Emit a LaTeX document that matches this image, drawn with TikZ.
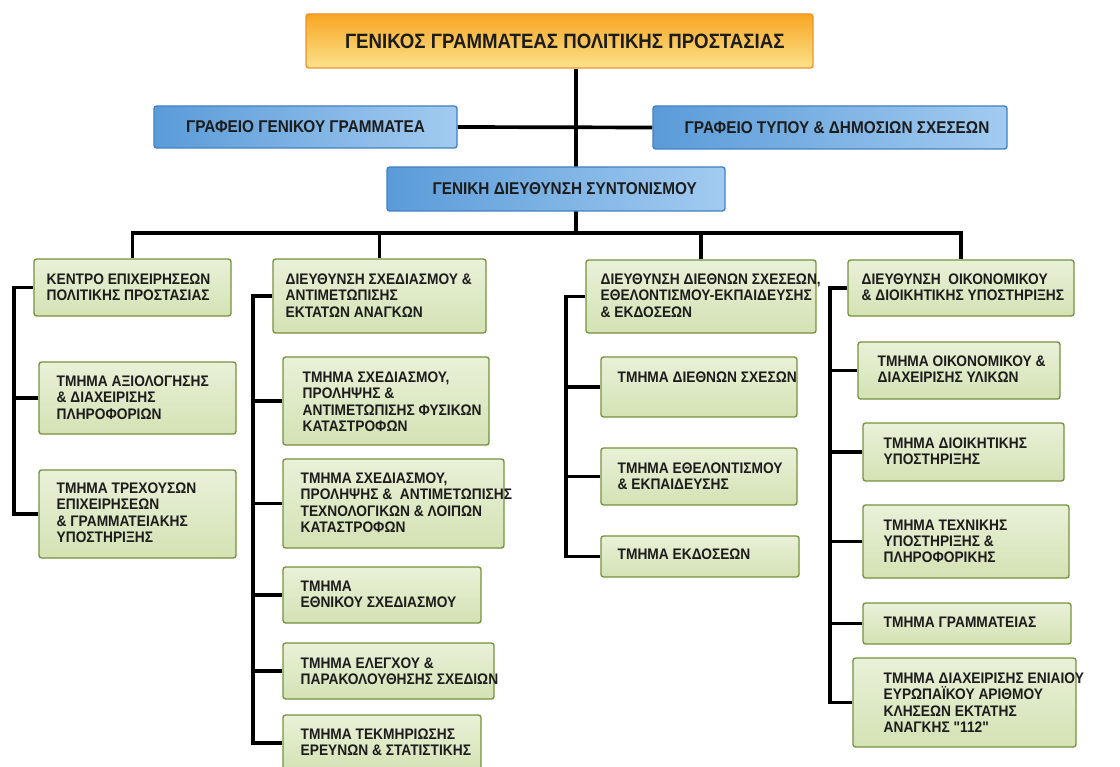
\documentclass[tikz,border=0pt]{standalone}
\usepackage{fontspec}
\setmainfont[FakeStretch=0.9,Ligatures=TeXOff]{Liberation Sans}
\usetikzlibrary{fit}
\definecolor{orangetop}{RGB}{247,166,35}
\definecolor{orangebot}{RGB}{252,226,140}
\definecolor{orangeline}{RGB}{240,146,40}
\definecolor{blueleft}{RGB}{90,155,216}
\definecolor{blueright}{RGB}{162,203,240}
\definecolor{blueline}{RGB}{66,128,196}
\definecolor{greentop}{RGB}{233,241,216}
\definecolor{greenbot}{RGB}{212,226,180}
\definecolor{greenline}{RGB}{118,146,62}
\definecolor{ink}{RGB}{28,28,28}
\pgfdeclarelayer{bg}
\pgfsetlayers{bg,main}
\begin{document}
\begin{tikzpicture}[x=0.02cm,y=-0.02cm,line join=round,
	obox/.style={draw=orangeline,line width=0.8pt,rounded corners=1.5pt,top color=orangetop,bottom color=orangebot,inner sep=0pt},
	bbox/.style={draw=blueline,line width=0.8pt,rounded corners=1.5pt,left color=blueleft,right color=blueright,inner sep=0pt},
	gbox/.style={draw=greenline,line width=0.8pt,rounded corners=1.5pt,top color=greentop,bottom color=greenbot,inner sep=0pt},
	otxt/.style={inner sep=0pt,text=ink,font=\bfseries\fontsize{11.8}{13}\selectfont},
	btxt/.style={inner sep=0pt,text=ink,font=\bfseries\fontsize{9.7}{11}\selectfont},
	gtxt/.style={anchor=north west,inner sep=0pt,align=left,text=ink,font=\bfseries\fontsize{8.7}{9.3}\selectfont},
	link/.style={line width=2.1pt}]
	\useasboundingbox (0,0) rectangle (1120,767);
	% top of the chart
	\node[obox,fit={(306,14) (813,68)}] (gsg) {};
	\node[otxt] (gsgt) at ([xshift=3]gsg.center) {ΓΕΝΙΚΟΣ ΓΡΑΜΜΑΤΕΑΣ ΠΟΛΙΤΙΚΗΣ ΠΡΟΣΤΑΣΙΑΣ};
	\node[bbox,fit={(154,106) (457,148)}] (office) {};
	\node[btxt] (officet) at (office.center) {ΓΡΑΦΕΙΟ ΓΕΝΙΚΟΥ ΓΡΑΜΜΑΤΕΑ};
	\node[bbox,fit={(653,106) (1007,149)}] (press) {};
	\node[btxt] (presst) at ([xshift=4]press.center) {ΓΡΑΦΕΙΟ ΤΥΠΟΥ \& ΔΗΜΟΣΙΩΝ ΣΧΕΣΕΩΝ};
	\node[bbox,fit={(387,167) (725,211)}] (gdir) {};
	\node[btxt] (gdirt) at ([xshift=5]gdir.center) {ΓΕΝΙΚΗ ΔΙΕΥΘΥΝΣΗ ΣΥΝΤΟΝΙΣΜΟΥ};
	% directorates
	\node[gbox,fit={(34,259) (231,316)}] (g1) {};
	\node[gtxt] (g1t) at ([shift={(13,15)}]g1.north west) {ΚΕΝΤΡΟ ΕΠΙΧΕΙΡΗΣΕΩΝ\\ΠΟΛΙΤΙΚΗΣ ΠΡΟΣΤΑΣΙΑΣ};
	\node[gbox,fit={(273,259) (486,333)}] (g2) {};
	\node[gtxt] (g2t) at ([shift={(13,15)}]g2.north west) {ΔΙΕΥΘΥΝΣΗ ΣΧΕΔΙΑΣΜΟΥ \&\\ΑΝΤΙΜΕΤΩΠΙΣΗΣ\\ΕΚΤΑΤΩΝ ΑΝΑΓΚΩΝ};
	\node[gbox,fit={(586,260) (816,333)}] (g3) {};
	\node[gtxt] (g3t) at ([shift={(15,14)}]g3.north west) {ΔΙΕΥΘΥΝΣΗ ΔΙΕΘΝΩΝ ΣΧΕΣΕΩΝ,\\ΕΘΕΛΟΝΤΙΣΜΟΥ-ΕΚΠΑΙΔΕΥΣΗΣ\\\& ΕΚΔΟΣΕΩΝ};
	\node[gbox,fit={(848,260) (1074,316)}] (g4) {};
	\node[gtxt] (g4t) at ([shift={(14,14)}]g4.north west) {ΔΙΕΥΘΥΝΣΗ~ ΟΙΚΟΝΟΜΙΚΟΥ\\\& ΔΙΟΙΚΗΤΙΚΗΣ ΥΠΟΣΤΗΡΙΞΗΣ};
	% first column
	\node[gbox,fit={(39,362) (236,434)}] (c11) {};
	\node[gtxt] (c11t) at ([shift={(18,14)}]c11.north west) {ΤΜΗΜΑ ΑΞΙΟΛΟΓΗΣΗΣ\\\& ΔΙΑΧΕΙΡΙΣΗΣ\\ΠΛΗΡΟΦΟΡΙΩΝ};
	\node[gbox,fit={(39,470) (236,558)}] (c12) {};
	\node[gtxt] (c12t) at ([shift={(18,13)}]c12.north west) {ΤΜΗΜΑ ΤΡΕΧΟΥΣΩΝ\\ΕΠΙΧΕΙΡΗΣΕΩΝ\\\& ΓΡΑΜΜΑΤΕΙΑΚΗΣ\\ΥΠΟΣΤΗΡΙΞΗΣ};
	% second column
	\node[gbox,fit={(283,357) (489,445)}] (c21) {};
	\node[gtxt] (c21t) at ([shift={(20,15)}]c21.north west) {ΤΜΗΜΑ ΣΧΕΔΙΑΣΜΟΥ,\\ΠΡΟΛΗΨΗΣ \&\\ΑΝΤΙΜΕΤΩΠΙΣΗΣ ΦΥΣΙΚΩΝ\\ΚΑΤΑΣΤΡΟΦΩΝ};
	\node[gbox,fit={(283,459) (504,548)}] (c22) {};
	\node[gtxt] (c22t) at ([shift={(18,14)}]c22.north west) {ΤΜΗΜΑ ΣΧΕΔΙΑΣΜΟΥ,\\ΠΡΟΛΗΨΗΣ \&~ ΑΝΤΙΜΕΤΩΠΙΣΗΣ\\ΤΕΧΝΟΛΟΓΙΚΩΝ \& ΛΟΙΠΩΝ\\ΚΑΤΑΣΤΡΟΦΩΝ};
	\node[gbox,fit={(283,567) (481,623)}] (c23) {};
	\node[gtxt] (c23t) at ([shift={(18,14)}]c23.north west) {ΤΜΗΜΑ\\ΕΘΝΙΚΟΥ ΣΧΕΔΙΑΣΜΟΥ};
	\node[gbox,fit={(283,643) (494,699)}] (c24) {};
	\node[gtxt] (c24t) at ([shift={(18,15)}]c24.north west) {ΤΜΗΜΑ ΕΛΕΓΧΟΥ \&\\ΠΑΡΑΚΟΛΟΥΘΗΣΗΣ ΣΧΕΔΙΩΝ};
	\node[gbox,fit={(283,715) (481,771)}] (c25) {};
	\node[gtxt] (c25t) at ([shift={(18,14)}]c25.north west) {ΤΜΗΜΑ ΤΕΚΜΗΡΙΩΣΗΣ\\ΕΡΕΥΝΩΝ \& ΣΤΑΤΙΣΤΙΚΗΣ};
	% third column
	\node[gbox,fit={(601,357) (797,417)}] (c31) {};
	\node[gtxt] (c31t) at ([shift={(17,15)}]c31.north west) {ΤΜΗΜΑ ΔΙΕΘΝΩΝ ΣΧΕΣΩΝ};
	\node[gbox,fit={(601,448) (797,505)}] (c32) {};
	\node[gtxt] (c32t) at ([shift={(17,15)}]c32.north west) {ΤΜΗΜΑ ΕΘΕΛΟΝΤΙΣΜΟΥ\\\& ΕΚΠΑΙΔΕΥΣΗΣ};
	\node[gbox,fit={(601,536) (799,577)}] (c33) {};
	\node[gtxt] (c33t) at ([shift={(17,13)}]c33.north west) {ΤΜΗΜΑ ΕΚΔΟΣΕΩΝ};
	% fourth column
	\node[gbox,fit={(858,342) (1060,399)}] (c41) {};
	\node[gtxt] (c41t) at ([shift={(20,14)}]c41.north west) {ΤΜΗΜΑ ΟΙΚΟΝΟΜΙΚΟΥ \&\\ΔΙΑΧΕΙΡΙΣΗΣ ΥΛΙΚΩΝ};
	\node[gbox,fit={(863,423) (1064,481)}] (c42) {};
	\node[gtxt] (c42t) at ([shift={(21,15)}]c42.north west) {ΤΜΗΜΑ ΔΙΟΙΚΗΤΙΚΗΣ\\ΥΠΟΣΤΗΡΙΞΗΣ};
	\node[gbox,fit={(863,505) (1069,578)}] (c43) {};
	\node[gtxt] (c43t) at ([shift={(21,15)}]c43.north west) {ΤΜΗΜΑ ΤΕΧΝΙΚΗΣ\\ΥΠΟΣΤΗΡΙΞΗΣ \&\\ΠΛΗΡΟΦΟΡΙΚΗΣ};
	\node[gbox,fit={(863,603) (1071,644)}] (c44) {};
	\node[gtxt] (c44t) at ([shift={(21,14)}]c44.north west) {ΤΜΗΜΑ ΓΡΑΜΜΑΤΕΙΑΣ};
	\node[gbox,fit={(853,658) (1076,747)}] (c45) {};
	\node[gtxt] (c45t) at ([shift={(31,15)}]c45.north west) {ΤΜΗΜΑ ΔΙΑΧΕΙΡΙΣΗΣ ΕΝΙΑΙΟΥ\\ΕΥΡΩΠΑΪΚΟΥ ΑΡΙΘΜΟΥ\\ΚΛΗΣΕΩΝ ΕΚΤΑΤΗΣ\\ΑΝΑΓΚΗΣ "112"};
	% lines behind the boxes
	\begin{pgfonlayer}{bg}
		\coordinate (bus) at (576,233);
		\draw[link] (gsg.south -| bus) -- (bus);
		\draw[link] (office.east) -- (press.west);
		\draw[link] (g1.north) -- (g1.north |- bus) -- (g4.north |- bus) -- (g4.north);
		\foreach \g in {g2,g3}
			\draw[link] (\g.north) -- (\g.north |- bus);
		\foreach \g/\sx/\last in {g1/14/c12,g2/253/c25,g3/566/c33,g4/830/c45}
			\draw[link] (\g.west) -- (\sx,0 |- \g.west) -- (\sx,0 |- \last.west) -- (\last.west);
		\foreach \c/\sx in {c11/14,c21/253,c22/253,c23/253,c24/253,c31/566,c32/566,c41/830,c42/830,c43/830,c44/830}
			\draw[link] (\sx,0 |- \c.west) -- (\c.west);
	\end{pgfonlayer}
\end{tikzpicture}
\end{document}
